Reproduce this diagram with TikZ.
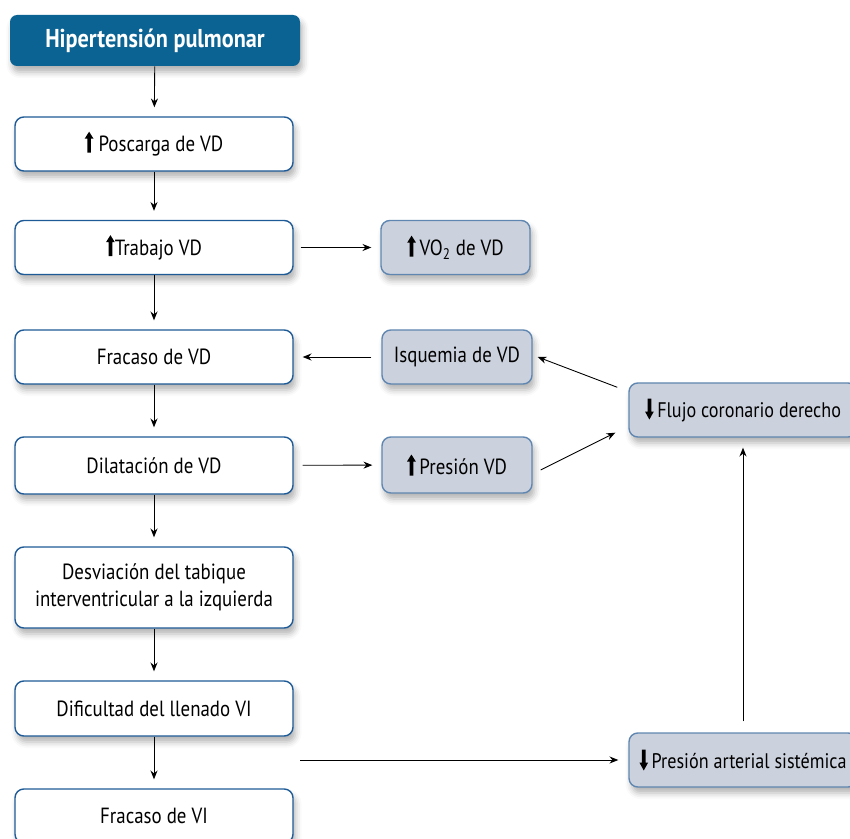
\documentclass[tikz,border=0pt]{standalone}
\usepackage{fontspec}
\setmainfont{PT Sans}[FakeStretch=0.86]
\usetikzlibrary{arrows.meta, positioning, calc, shadows.blur}
\definecolor{azulhp}{RGB}{11,99,148}
\definecolor{bordeazul}{RGB}{30,90,150}
\definecolor{grisazul}{RGB}{204,210,221}
\definecolor{bordegris}{RGB}{95,134,176}

\newcommand{\subir}{\tikz[baseline=0pt]\fill[black, sharp corners, draw=none] (-0.037,-0.02) -- (0.037,-0.02) -- (0.037,0.26) -- (0.088,0.26) -- (0,0.4) -- (-0.088,0.26) -- (-0.037,0.26) -- cycle;}
\newcommand{\bajar}{\tikz[baseline=0pt]\fill[black, sharp corners, draw=none] (-0.037,0.37) -- (0.037,0.37) -- (0.037,0.11) -- (0.088,0.11) -- (0,-0.05) -- (-0.088,0.11) -- (-0.037,0.11) -- cycle;}

\begin{document}
\begin{tikzpicture}[
			titulo/.style={rectangle, rounded corners=4pt, fill=azulhp, text=white, minimum width=5.8cm, minimum height=1.02cm, align=center, font=\fontsize{14.7}{17}\selectfont\bfseries, blur shadow={shadow xshift=0.05cm, shadow yshift=-0.12cm, shadow blur radius=0.12cm, shadow opacity=30}},
			caja/.style={rectangle, rounded corners=5pt, draw=bordeazul, line width=0.8pt, fill=white, minimum width=5.56cm, minimum height=1.08cm, align=center, font=\fontsize{12.5}{15.3}\selectfont, blur shadow={shadow xshift=0.05cm, shadow yshift=-0.12cm, shadow blur radius=0.12cm, shadow opacity=30}},
			efecto/.style={caja, draw=bordegris, fill=grisazul, minimum width=3cm},
			ancho/.style={efecto, minimum width=4.56cm, font=\fontsize{12}{15}\selectfont},
			arrow/.style={-{Stealth[length=5pt, width=4pt]}, line width=0.5pt, shorten >=0.18cm}
			]
			\useasboundingbox (0,0) rectangle (17,-16.78);
			
			\node[titulo] (hp) at (3.1,-0.81) {Hipertensión pulmonar};
			\node[caja] (poscarga) at (3.08,-2.88) {\subir\ Poscarga de VD};
			\node[caja] (trabajo) at (3.08,-4.95) {\subir Trabajo VD};
			\node[caja] (fracvd) at (3.08,-7.14) {Fracaso de VD};
			\node[caja, minimum height=1.14cm] (dilat) at (3.08,-9.31) {Dilatación de VD};
			\node[caja, minimum height=1.62cm] (desv) at (3.08,-11.75) {Desviación del tabique\\interventricular a la izquierda};
			\node[caja, minimum height=1.1cm] (dific) at (3.08,-14.17) {Dificultad del llenado VI};
			\node[caja] (fracvi) at (3.08,-16.32) {Fracaso de VI};
			
			\node[efecto, minimum width=2.98cm] (vo2) at (9.11,-4.95) {\subir\,VO\textsubscript{2} de VD};
			\node[efecto] (isq) at (9.14,-7.14) {Isquemia de VD};
			\node[efecto, minimum height=1.12cm] (presvd) at (9.14,-9.3) {\subir\,Presión VD};
			\node[ancho] (flujo) at (14.86,-8.2) {\bajar\,Flujo coronario derecho};
			\node[ancho] (presart) at (14.86,-15.2) {\bajar\,Presión arterial sistémica};
			\coordinate (desvio) at (6.0,-15.2);
			
			\draw[arrow] (hp) -- (poscarga);
			\draw[arrow] (poscarga) -- (trabajo);
			\draw[arrow] (trabajo) -- (fracvd);
			\draw[arrow] (fracvd) -- (dilat);
			\draw[arrow] (dilat) -- (desv);
			\draw[arrow] (desv) -- (dific);
			\draw[arrow] (dific) -- (fracvi);
			
			\draw[arrow, shorten <=0.14cm] (trabajo) -- (vo2);
			\draw[arrow, shorten <=0.2cm] (isq) -- (fracvd);
			\draw[arrow, shorten <=0.18cm] (dilat) -- (presvd);
			\draw[arrow, shorten >=0pt] ([shift={(-0.22,-0.1)}]flujo.north west) -- ([xshift=0.1cm]isq.east);
			\draw[arrow, shorten >=0pt] ([shift={(0.16,-0.1)}]presvd.east) -- ([shift={(-0.26,0.1)}]flujo.south west);
			\draw[arrow, shorten <=0.22cm, shorten >=0.2cm] (presart) -- (flujo);
			\draw[arrow, shorten >=0.2cm] (desvio) -- (presart);
		\end{tikzpicture}
\end{document}
